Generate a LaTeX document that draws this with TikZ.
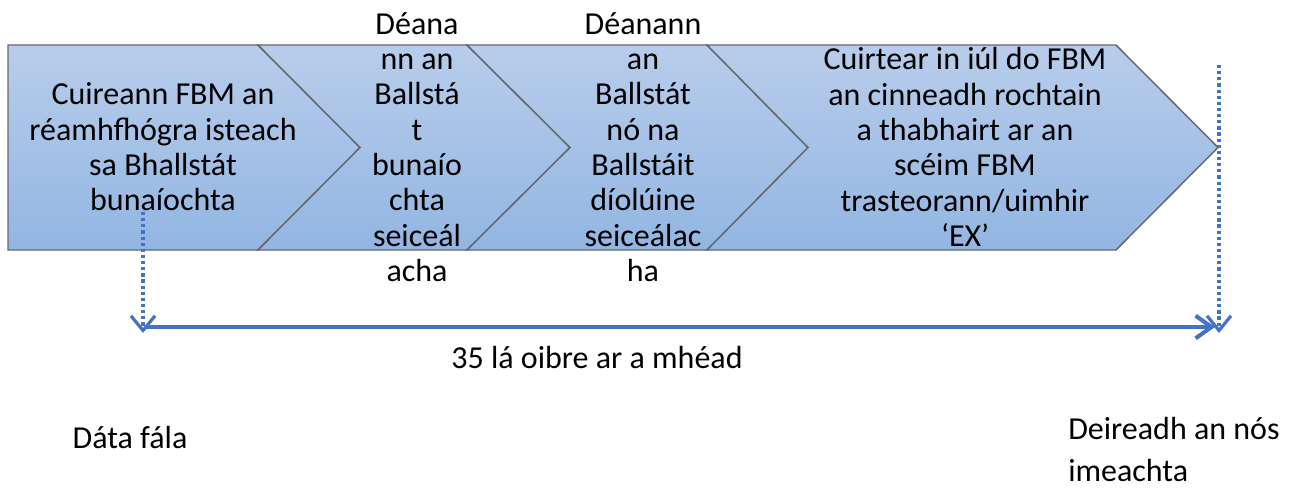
\documentclass[tikz,border=0pt]{standalone}
\usepackage{fontspec}
\setmainfont{Carlito}
\usetikzlibrary{arrows.meta,positioning}
\definecolor{stepTop}{RGB}{184,205,235}
\definecolor{stepBot}{RGB}{146,182,226}
\definecolor{stepLine}{RGB}{100,105,112}
\definecolor{timeBlue}{RGB}{68,114,196}
\tikzset{
	stepshape/.style={top color=stepTop, bottom color=stepBot, draw=stepLine, line width=1.1pt},
	steptext/.style={align=center, inner sep=0pt, font=\fontsize{24}{26.5}\selectfont},
	plain/.style={inner sep=0pt, font=\fontsize{24}{26.5}\selectfont},
	marker/.style={-{Straight Barb[length=11pt,width=18pt,line width=2.4pt]}, draw=timeBlue, line width=2.6pt, dash pattern=on 2.4pt off 2.2pt},
	spanline/.style={-{Straight Barb[length=12pt,width=17pt,line width=3pt]}, draw=timeBlue, line width=3pt}
}

\begin{document}
\begin{tikzpicture}[x=0.75pt, y=-0.75pt]
\useasboundingbox (0,0) rectangle (1292,487);
% the four steps
\path[stepshape] (8,45) -- (258,45) -- (360,147.5) -- (258,250) -- (8,250) -- cycle;
\path[stepshape] (258,45) -- (467,45) -- (570,147.5) -- (467,250) -- (258,250) -- (360,147.5) -- cycle;
\path[stepshape] (467,45) -- (707,45) -- (808,147.5) -- (707,250) -- (467,250) -- (570,147.5) -- cycle;
\path[stepshape] (707,45) -- (1116,45) -- (1218,147.5) -- (1116,250) -- (707,250) -- (808,147.5) -- cycle;
\node[steptext] (Submit) at (163,147) {Cuireann FBM an\\réamhfhógra isteach\\sa Bhallstát\\bunaíochta};
\node[steptext] (Check) at (417,147) {Déana\\nn an\\Ballstá\\t\\bunaío\\chta\\seiceál\\acha};
\node[steptext] (Exempt) at (643,147) {Déanann\\an\\Ballstát\\nó na\\Ballstáit\\díolúine\\seiceálac\\ha};
\node[steptext] (Inform) at (965,147) {Cuirtear in iúl do FBM\\an cinneadh rochtain\\a thabhairt ar an\\scéim FBM\\trasteorann/uimhir\\‘EX’};

% the time line
\coordinate (StartTop) at (143,212);
\coordinate (StartBot) at (143,333);
\coordinate (EndTop) at (1219,65);
\coordinate (EndBot) at (1219,333);
\coordinate (SpanA) at (145,327);
\coordinate (SpanB) at (1215,327);
\draw[marker] (StartTop) -- (StartBot);
\draw[marker] (EndTop) -- (EndBot);
\draw[spanline] (SpanA) -- (SpanB);
\node[plain] (Span) at (597,357) {35 lá oibre ar a mhéad};
\node[plain] (Received) at (130,437) {Dáta fála};
\node[plain, anchor=west, align=left, font=\fontsize{24}{31.5}\selectfont] (Close) at (1068,449) {Deireadh an nós\\imeachta};
\end{tikzpicture}
\end{document}
